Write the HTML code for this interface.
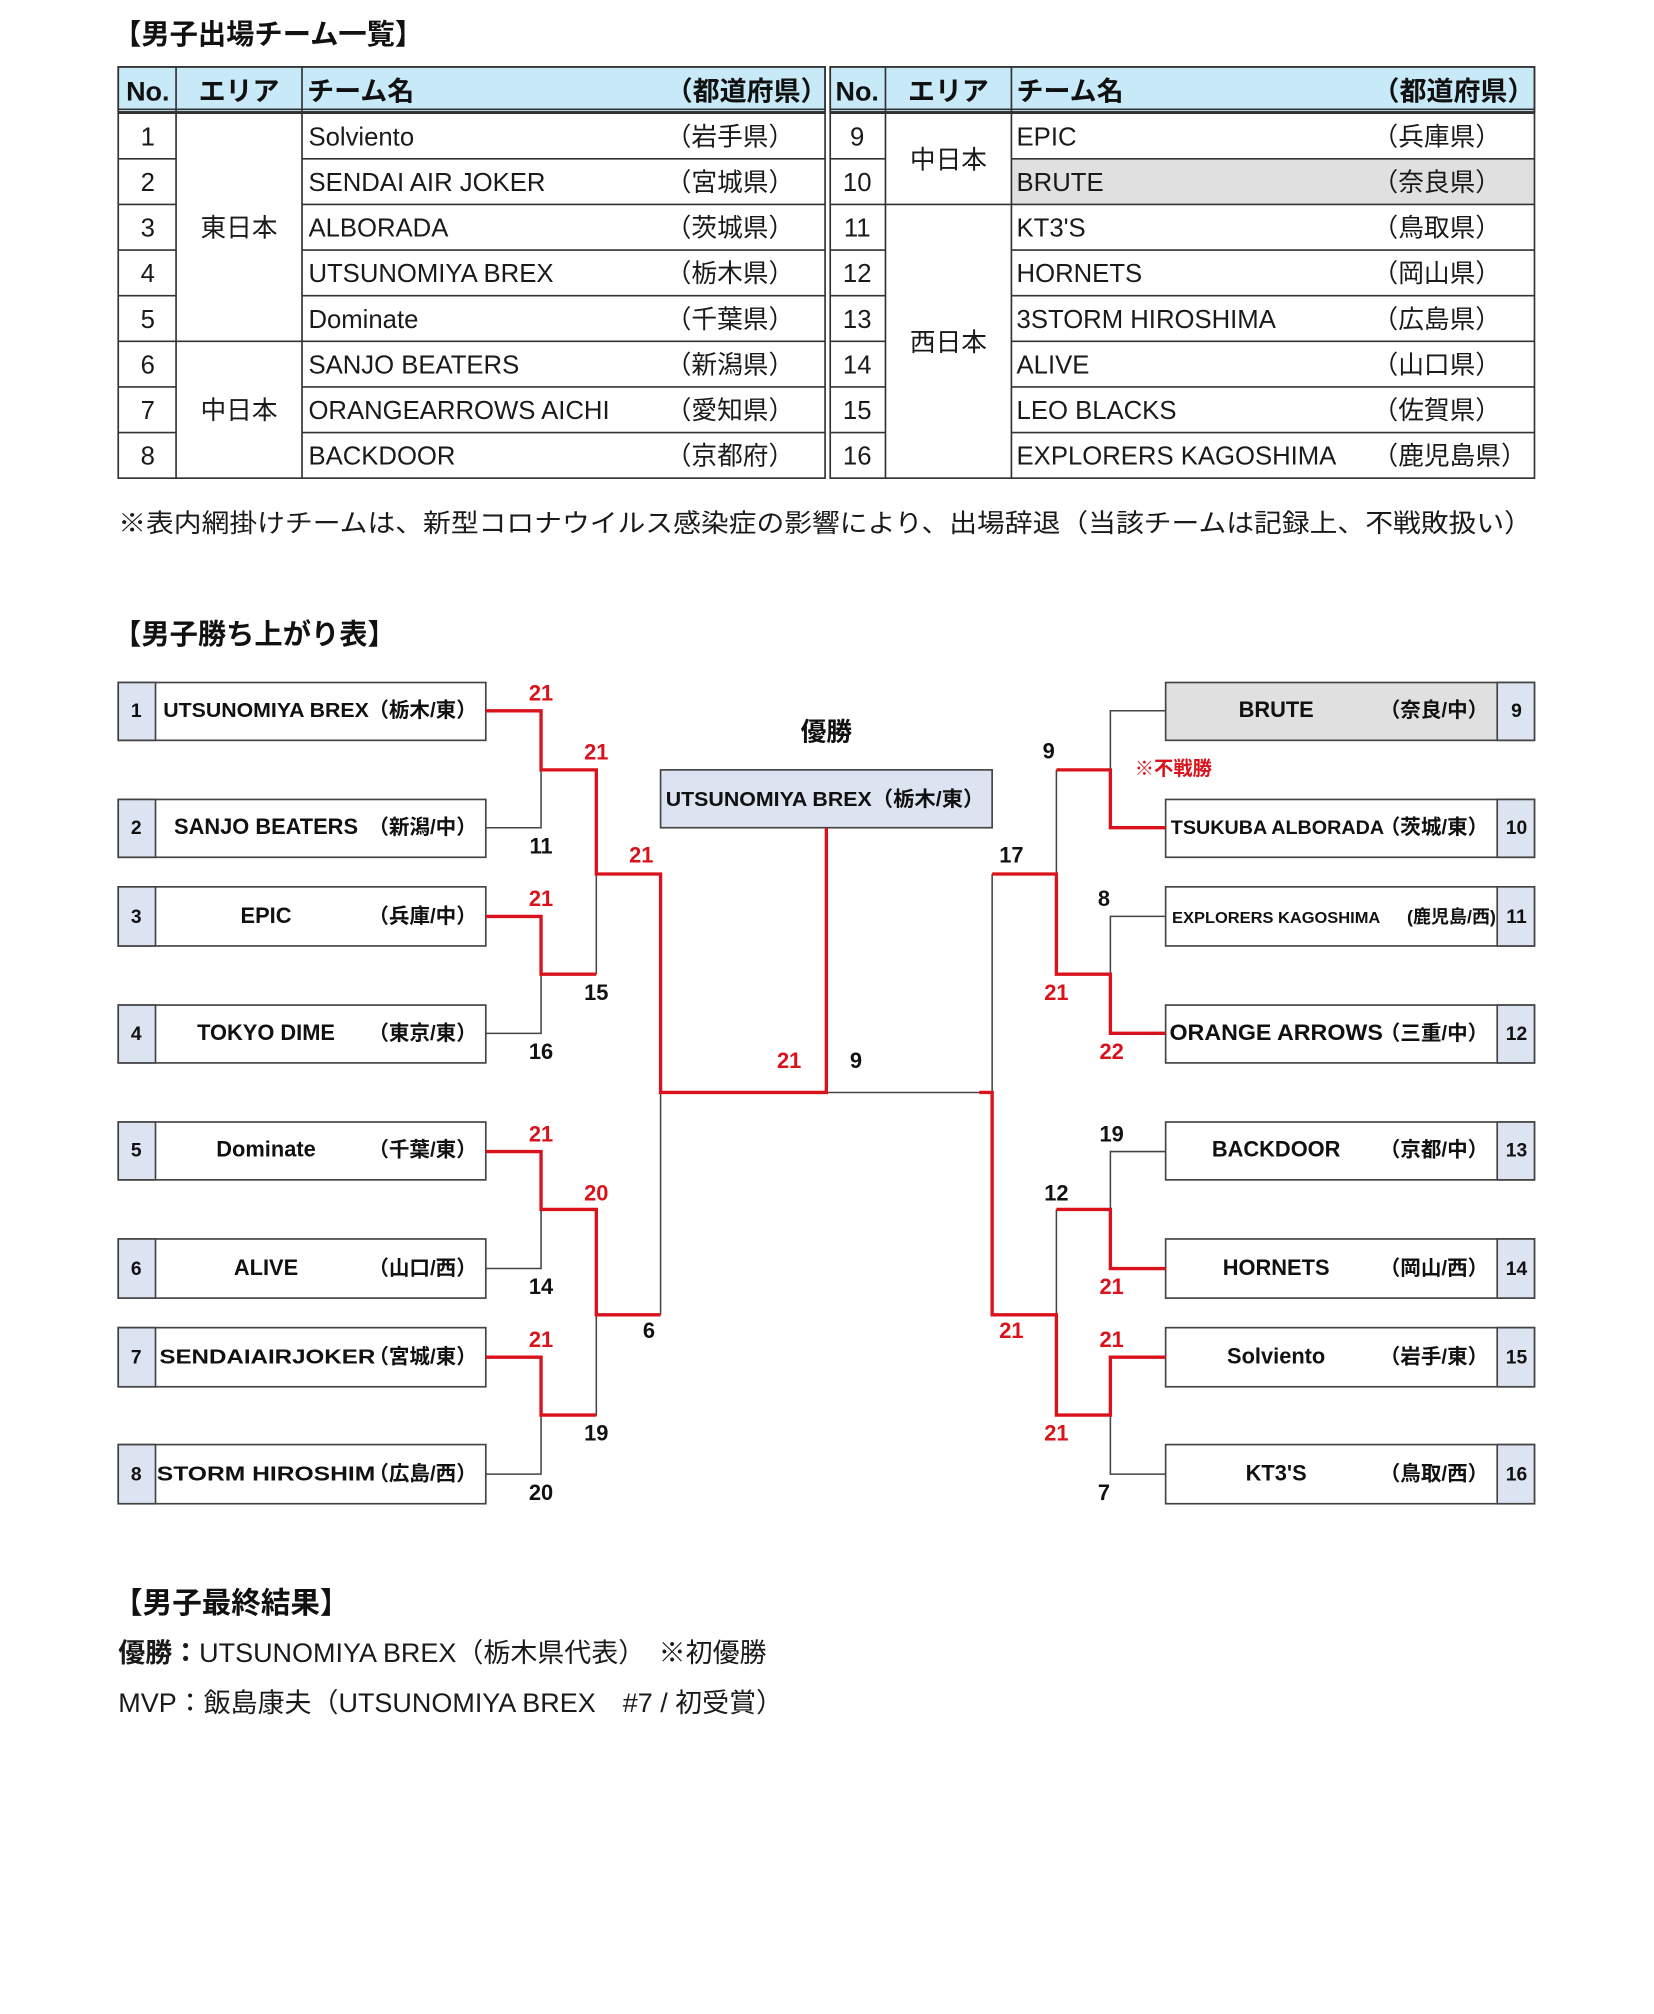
<!DOCTYPE html>
<html><head><meta charset="utf-8">
<style>
html,body{margin:0;padding:0;background:#fff;}
svg{display:block;}
text{font-family:"Liberation Sans","Noto Sans CJK JP",sans-serif;}
.n{font-family:"Liberation Sans Narrow","Liberation Sans","Noto Sans CJK JP",sans-serif;font-size:20px;fill:#1a1a1a;}
.h{font-family:"Liberation Sans Narrow","Liberation Sans","Noto Sans CJK JP",sans-serif;font-size:21px;font-weight:bold;fill:#111;}
.b{font-size:16px;font-weight:bold;fill:#111;}
.p{font-size:15px;font-weight:bold;fill:#111;}
.s{font-size:17px;font-weight:bold;}
.r{fill:#d9121b;}
.k{fill:#111;}
.rl{stroke:#d9121b;stroke-width:2.6;fill:none;}
.kl{stroke:#444;stroke-width:1.2;fill:none;}
</style></head><body>
<svg width="1654" height="2014" viewBox="0 0 1287 1567" xmlns="http://www.w3.org/2000/svg">
<text x="88" y="34" class="h" style="font-size:22px">【男子出場チーム一覧】</text>

<g stroke="#333" stroke-width="1.3" fill="none">
  <rect x="92" y="52" width="550" height="35" fill="#c8e9f7"/>
  <rect x="646" y="52" width="548" height="35" fill="#c8e9f7"/>
  <rect x="787" y="123.5" width="407" height="35.5" fill="#e0e0e0" stroke="none"/>
  <rect x="92" y="52" width="550" height="320"/>
  <rect x="646" y="52" width="548" height="320"/>
  <line x1="92" y1="85" x2="642" y2="85"/><line x1="92" y1="88" x2="642" y2="88"/>
  <line x1="646" y1="85" x2="1194" y2="85"/><line x1="646" y1="88" x2="1194" y2="88"/>
  <line x1="137" y1="52" x2="137" y2="372"/><line x1="235" y1="52" x2="235" y2="372"/>
  <line x1="689" y1="52" x2="689" y2="372"/><line x1="787" y1="52" x2="787" y2="372"/>
  <line x1="92" y1="123.5" x2="137" y2="123.5"/><line x1="235" y1="123.5" x2="642" y2="123.5"/>
  <line x1="92" y1="159" x2="137" y2="159"/><line x1="235" y1="159" x2="642" y2="159"/>
  <line x1="92" y1="194.5" x2="137" y2="194.5"/><line x1="235" y1="194.5" x2="642" y2="194.5"/>
  <line x1="92" y1="230" x2="137" y2="230"/><line x1="235" y1="230" x2="642" y2="230"/>
  <line x1="92" y1="265.5" x2="642" y2="265.5"/>
  <line x1="92" y1="301" x2="137" y2="301"/><line x1="235" y1="301" x2="642" y2="301"/>
  <line x1="92" y1="336.5" x2="137" y2="336.5"/><line x1="235" y1="336.5" x2="642" y2="336.5"/>
  <line x1="646" y1="123.5" x2="689" y2="123.5"/><line x1="787" y1="123.5" x2="1194" y2="123.5"/>
  <line x1="646" y1="159" x2="1194" y2="159"/>
  <line x1="646" y1="194.5" x2="689" y2="194.5"/><line x1="787" y1="194.5" x2="1194" y2="194.5"/>
  <line x1="646" y1="230" x2="689" y2="230"/><line x1="787" y1="230" x2="1194" y2="230"/>
  <line x1="646" y1="265.5" x2="689" y2="265.5"/><line x1="787" y1="265.5" x2="1194" y2="265.5"/>
  <line x1="646" y1="301" x2="689" y2="301"/><line x1="787" y1="301" x2="1194" y2="301"/>
  <line x1="646" y1="336.5" x2="689" y2="336.5"/><line x1="787" y1="336.5" x2="1194" y2="336.5"/>
</g>
<text x="115" y="78" class="h" text-anchor="middle">No.</text>
<text x="186" y="78" class="h" text-anchor="middle">エリア</text>
<text x="239" y="78" class="h">チーム名</text>
<text x="518" y="78" class="h">（都道府県）</text>
<text x="667" y="78" class="h" text-anchor="middle">No.</text>
<text x="738" y="78" class="h" text-anchor="middle">エリア</text>
<text x="791" y="78" class="h">チーム名</text>
<text x="1068" y="78" class="h">（都道府県）</text>

<g class="n">
<text x="115" y="113" text-anchor="middle">1</text><text x="240" y="113">Solviento</text><text x="518" y="113">（岩手県）</text>
<text x="115" y="148.5" text-anchor="middle">2</text><text x="240" y="148.5">SENDAI AIR JOKER</text><text x="518" y="148.5">（宮城県）</text>
<text x="115" y="184" text-anchor="middle">3</text><text x="240" y="184">ALBORADA</text><text x="518" y="184">（茨城県）</text>
<text x="115" y="219.5" text-anchor="middle">4</text><text x="240" y="219.5">UTSUNOMIYA BREX</text><text x="518" y="219.5">（栃木県）</text>
<text x="115" y="255" text-anchor="middle">5</text><text x="240" y="255">Dominate</text><text x="518" y="255">（千葉県）</text>
<text x="115" y="290.5" text-anchor="middle">6</text><text x="240" y="290.5">SANJO BEATERS</text><text x="518" y="290.5">（新潟県）</text>
<text x="115" y="326" text-anchor="middle">7</text><text x="240" y="326">ORANGEARROWS AICHI</text><text x="518" y="326">（愛知県）</text>
<text x="115" y="361.5" text-anchor="middle">8</text><text x="240" y="361.5">BACKDOOR</text><text x="518" y="361.5">（京都府）</text>
<text x="186" y="184" text-anchor="middle">東日本</text>
<text x="186" y="326" text-anchor="middle">中日本</text>

<text x="667" y="113" text-anchor="middle">9</text><text x="791" y="113">EPIC</text><text x="1068" y="113">（兵庫県）</text>
<text x="667" y="148.5" text-anchor="middle">10</text><text x="791" y="148.5">BRUTE</text><text x="1068" y="148.5">（奈良県）</text>
<text x="667" y="184" text-anchor="middle">11</text><text x="791" y="184">KT3'S</text><text x="1068" y="184">（鳥取県）</text>
<text x="667" y="219.5" text-anchor="middle">12</text><text x="791" y="219.5">HORNETS</text><text x="1068" y="219.5">（岡山県）</text>
<text x="667" y="255" text-anchor="middle">13</text><text x="791" y="255">3STORM HIROSHIMA</text><text x="1068" y="255">（広島県）</text>
<text x="667" y="290.5" text-anchor="middle">14</text><text x="791" y="290.5">ALIVE</text><text x="1068" y="290.5">（山口県）</text>
<text x="667" y="326" text-anchor="middle">15</text><text x="791" y="326">LEO BLACKS</text><text x="1068" y="326">（佐賀県）</text>
<text x="667" y="361.5" text-anchor="middle">16</text><text x="791" y="361.5">EXPLORERS KAGOSHIMA</text><text x="1068" y="361.5">（鹿児島県）</text>
<text x="738" y="131" text-anchor="middle">中日本</text>
<text x="738" y="273" text-anchor="middle">西日本</text>
</g>

<text x="92" y="414" class="n" textLength="1100" lengthAdjust="spacingAndGlyphs">※表内網掛けチームは、新型コロナウイルス感染症の影響により、出場辞退（当該チームは記録上、不戦敗扱い）</text>

<text x="88" y="501" class="h" style="font-size:22px">【男子勝ち上がり表】</text>

<g stroke="#444" stroke-width="1.3">
  <g fill="#fff">
    <rect x="92" y="531" width="286" height="45"/><rect x="92" y="622" width="286" height="45"/>
    <rect x="92" y="690" width="286" height="46"/><rect x="92" y="782" width="286" height="45"/>
    <rect x="92" y="873" width="286" height="45"/><rect x="92" y="964" width="286" height="46"/>
    <rect x="92" y="1033" width="286" height="46"/><rect x="92" y="1124" width="286" height="46"/>
    <rect x="907" y="531" width="287" height="45" fill="#e0e0e0"/><rect x="907" y="622" width="287" height="45"/>
    <rect x="907" y="690" width="287" height="46"/><rect x="907" y="782" width="287" height="45"/>
    <rect x="907" y="873" width="287" height="45"/><rect x="907" y="964" width="287" height="46"/>
    <rect x="907" y="1033" width="287" height="46"/><rect x="907" y="1124" width="287" height="46"/>
  </g>
  <g fill="#dce3f1">
    <rect x="92" y="531" width="29" height="45"/><rect x="92" y="622" width="29" height="45"/>
    <rect x="92" y="690" width="29" height="46"/><rect x="92" y="782" width="29" height="45"/>
    <rect x="92" y="873" width="29" height="45"/><rect x="92" y="964" width="29" height="46"/>
    <rect x="92" y="1033" width="29" height="46"/><rect x="92" y="1124" width="29" height="46"/>
    <rect x="1165" y="531" width="29" height="45"/><rect x="1165" y="622" width="29" height="45"/>
    <rect x="1165" y="690" width="29" height="46"/><rect x="1165" y="782" width="29" height="45"/>
    <rect x="1165" y="873" width="29" height="45"/><rect x="1165" y="964" width="29" height="46"/>
    <rect x="1165" y="1033" width="29" height="46"/><rect x="1165" y="1124" width="29" height="46"/>
    <rect x="514" y="599" width="258" height="45"/>
  </g>
</g>

<g class="p">
<text x="106" y="558" text-anchor="middle">1</text><text x="106" y="649" text-anchor="middle">2</text>
<text x="106" y="718" text-anchor="middle">3</text><text x="106" y="809" text-anchor="middle">4</text>
<text x="106" y="900" text-anchor="middle">5</text><text x="106" y="992" text-anchor="middle">6</text>
<text x="106" y="1061" text-anchor="middle">7</text><text x="106" y="1152" text-anchor="middle">8</text>
<text x="1180" y="558" text-anchor="middle">9</text><text x="1180" y="649" text-anchor="middle">10</text>
<text x="1180" y="718" text-anchor="middle">11</text><text x="1180" y="809" text-anchor="middle">12</text>
<text x="1180" y="900" text-anchor="middle">13</text><text x="1180" y="992" text-anchor="middle">14</text>
<text x="1180" y="1061" text-anchor="middle">15</text><text x="1180" y="1152" text-anchor="middle">16</text>
</g>
<g class="b">
<text x="127" y="558" textLength="160" lengthAdjust="spacingAndGlyphs">UTSUNOMIYA BREX</text><text x="371" y="558" text-anchor="end">（栃木/東）</text>
<text x="207" y="649" text-anchor="middle" style="font-size:17px">SANJO BEATERS</text><text x="371" y="649" text-anchor="end">（新潟/中）</text>
<text x="207" y="718" text-anchor="middle" style="font-size:17px">EPIC</text><text x="371" y="718" text-anchor="end">（兵庫/中）</text>
<text x="207" y="809" text-anchor="middle" style="font-size:17px">TOKYO DIME</text><text x="371" y="809" text-anchor="end">（東京/東）</text>
<text x="207" y="900" text-anchor="middle" style="font-size:17px">Dominate</text><text x="371" y="900" text-anchor="end">（千葉/東）</text>
<text x="207" y="992" text-anchor="middle" style="font-size:17px">ALIVE</text><text x="371" y="992" text-anchor="end">（山口/西）</text>
<text x="124" y="1061" textLength="168" lengthAdjust="spacingAndGlyphs">SENDAIAIRJOKER</text><text x="371" y="1061" text-anchor="end">（宮城/東）</text>
<text x="122" y="1152" textLength="170" lengthAdjust="spacingAndGlyphs">STORM HIROSHIM</text><text x="371" y="1152" text-anchor="end">（広島/西）</text>

<text x="993" y="558" text-anchor="middle" style="font-size:17px">BRUTE</text><text x="1158" y="558" text-anchor="end">（奈良/中）</text>
<text x="911" y="649" textLength="166" lengthAdjust="spacingAndGlyphs" style="font-size:15px">TSUKUBA ALBORADA</text><text x="1158" y="649" text-anchor="end">（茨城/東）</text>
<text x="912" y="718" textLength="162" lengthAdjust="spacingAndGlyphs" style="font-size:12px">EXPLORERS KAGOSHIMA</text><text x="1164" y="718" text-anchor="end" style="font-size:14px">(鹿児島/西)</text>
<text x="910" y="809" textLength="166" lengthAdjust="spacingAndGlyphs" style="font-size:17px">ORANGE ARROWS</text><text x="1158" y="809" text-anchor="end">（三重/中）</text>
<text x="993" y="900" text-anchor="middle" style="font-size:17px">BACKDOOR</text><text x="1158" y="900" text-anchor="end">（京都/中）</text>
<text x="993" y="992" text-anchor="middle" style="font-size:17px">HORNETS</text><text x="1158" y="992" text-anchor="end">（岡山/西）</text>
<text x="993" y="1061" text-anchor="middle" style="font-size:17px">Solviento</text><text x="1158" y="1061" text-anchor="end">（岩手/東）</text>
<text x="993" y="1152" text-anchor="middle" style="font-size:17px">KT3'S</text><text x="1158" y="1152" text-anchor="end">（鳥取/西）</text>

<text x="643" y="576" text-anchor="middle" style="font-size:20px">優勝</text>
<text x="518" y="627" textLength="248" lengthAdjust="spacingAndGlyphs">UTSUNOMIYA BREX（栃木/東）</text>
</g>

<g class="kl">
  <polyline points="378,644 421,644 421,599"/>
  <polyline points="378,804 421,804 421,758"/>
  <polyline points="464,680 464,758"/>
  <polyline points="514,850 514,1023"/>
  <polyline points="378,987 421,987 421,941"/>
  <polyline points="378,1147 421,1147 421,1101"/>
  <polyline points="464,1023 464,1101 421,1101"/>
  <polyline points="643,850 772,850"/>
  <polyline points="772,680 772,850"/>
  <polyline points="907,553 864,553 864,599"/>
  <polyline points="907,713 864,713 864,758"/>
  <polyline points="822,599 822,680"/>
  <polyline points="907,896 864,896 864,941"/>
  <polyline points="822,941 822,1023"/>
  <polyline points="907,1147 864,1147 864,1101"/>
</g>
<g class="rl">
  <polyline points="378,553 421,553 421,599 464,599 464,680 514,680 514,850 643,850 643,644"/>
  <polyline points="378,713 421,713 421,758 464,758"/>
  <polyline points="378,896 421,896 421,941 464,941 464,1023 514,1023"/>
  <polyline points="378,1056 421,1056 421,1101 464,1101"/>
  <polyline points="907,644 864,644 864,599 822,599"/>
  <polyline points="772,680 822,680 822,758 864,758 864,804 907,804"/>
  <polyline points="762,850 772,850 772,1023 822,1023 822,1101 864,1101 864,1056 907,1056"/>
  <polyline points="822,941 864,941 864,987 907,987"/>
</g>

<g class="s">
<text x="421" y="545" text-anchor="middle" class="r">21</text>
<text x="421" y="664" text-anchor="middle" class="k">11</text>
<text x="464" y="591" text-anchor="middle" class="r">21</text>
<text x="499" y="671" text-anchor="middle" class="r">21</text>
<text x="421" y="705" text-anchor="middle" class="r">21</text>
<text x="464" y="778" text-anchor="middle" class="k">15</text>
<text x="421" y="824" text-anchor="middle" class="k">16</text>
<text x="421" y="888" text-anchor="middle" class="r">21</text>
<text x="464" y="934" text-anchor="middle" class="r">20</text>
<text x="421" y="1007" text-anchor="middle" class="k">14</text>
<text x="421" y="1048" text-anchor="middle" class="r">21</text>
<text x="464" y="1121" text-anchor="middle" class="k">19</text>
<text x="421" y="1167" text-anchor="middle" class="k">20</text>
<text x="505" y="1041" text-anchor="middle" class="k">6</text>
<text x="614" y="831" text-anchor="middle" class="r">21</text>
<text x="666" y="831" text-anchor="middle" class="k">9</text>

<text x="816" y="590" text-anchor="middle" class="k">9</text>
<text x="883" y="603" class="r" style="font-size:15px">※不戦勝</text>
<text x="787" y="671" text-anchor="middle" class="k">17</text>
<text x="859" y="705" text-anchor="middle" class="k">8</text>
<text x="822" y="778" text-anchor="middle" class="r">21</text>
<text x="865" y="824" text-anchor="middle" class="r">22</text>
<text x="865" y="888" text-anchor="middle" class="k">19</text>
<text x="822" y="934" text-anchor="middle" class="k">12</text>
<text x="865" y="1007" text-anchor="middle" class="r">21</text>
<text x="787" y="1041" text-anchor="middle" class="r">21</text>
<text x="865" y="1048" text-anchor="middle" class="r">21</text>
<text x="822" y="1121" text-anchor="middle" class="r">21</text>
<text x="859" y="1167" text-anchor="middle" class="k">7</text>
</g>

<text x="88" y="1255" class="h" style="font-size:23px">【男子最終結果】</text>
<text x="92" y="1293" class="n" style="font-size:21px"><tspan font-weight="bold">優勝：</tspan>UTSUNOMIYA BREX（栃木県代表）　※初優勝</text>
<text x="92" y="1332" class="n" style="font-size:21px">MVP：飯島康夫（UTSUNOMIYA BREX　#7 / 初受賞）</text>
</svg>
</body></html>
